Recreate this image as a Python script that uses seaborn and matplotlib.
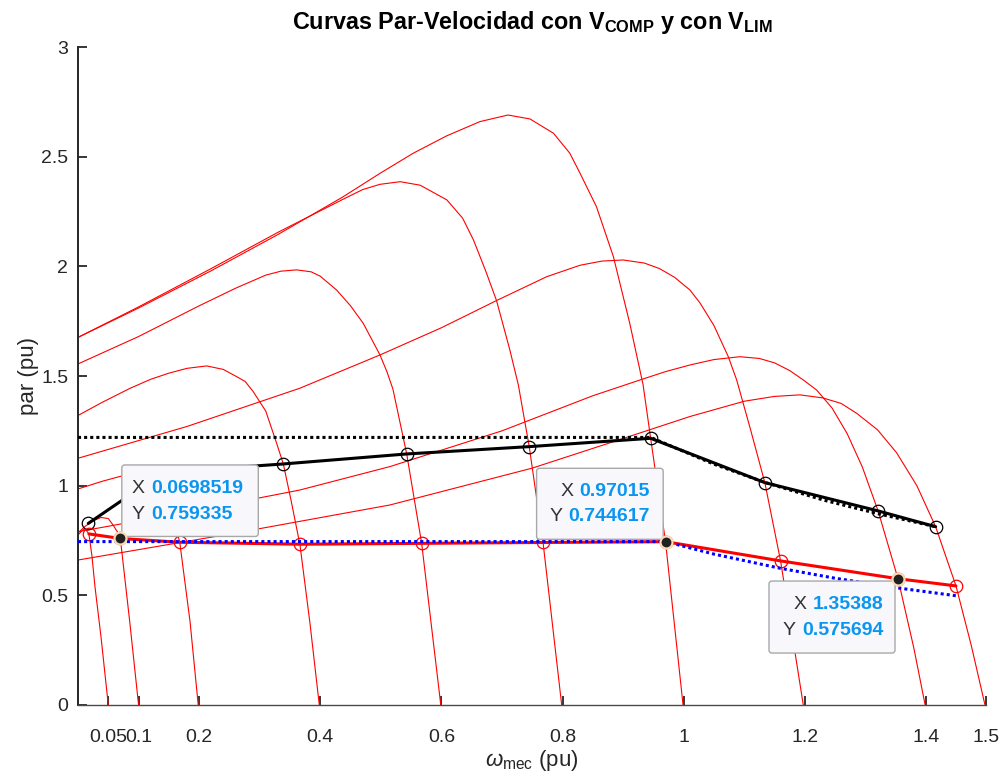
import numpy as np
import pandas as pd
import matplotlib
matplotlib.use("Agg")
import matplotlib.pyplot as plt
import matplotlib.transforms as mtransforms
from matplotlib.patches import FancyBboxPatch
import seaborn as sns

sns.set_theme(style="white")
plt.rcParams['font.family'] = ['Liberation Sans', 'DejaVu Sans']
plt.rcParams['mathtext.fontset'] = 'custom'
plt.rcParams['mathtext.rm'] = 'Liberation Sans'
plt.rcParams['mathtext.it'] = 'Liberation Sans:italic'
plt.rcParams['mathtext.bf'] = 'Liberation Sans:bold'

# ---------------- data ----------------
ns_values = [0.05, 0.1, 0.2, 0.4, 0.6, 0.8, 1.0, 1.2, 1.4, 1.5]
tick_labels = ["0.05", "0.1", "0.2", "0.4", "0.6", "0.8", "1", "1.2", "1.4", "1.5"]

c005_x = [0, 0.005, 0.009, 0.014, 0.018, 0.023, 0.028, 0.038, 0.05]
c005_y = [0.775, 0.79, 0.80, 0.795, 0.78, 0.68, 0.54, 0.31, 0]

c01_x = [0, 0.012, 0.025, 0.038, 0.05, 0.058, 0.0666, 0.0699, 0.0858, 0.1]
c01_y = [0.785, 0.815, 0.84, 0.855, 0.85, 0.82, 0.783, 0.759, 0.37, 0]

c02_x = [0, 0.04, 0.08, 0.11, 0.135, 0.145, 0.155, 0.168, 0.185, 0.1985]
c02_y = [0.985, 1.02, 1.05, 1.055, 1.0, 0.95, 0.88, 0.742, 0.38, 0]

c04_x = [0, 0.04, 0.086, 0.12, 0.15, 0.18, 0.2125, 0.24, 0.262, 0.276, 0.289, 0.31, 0.328, 0.339,
         0.352, 0.3665, 0.383, 0.3984]
c04_y = [1.32, 1.38, 1.444, 1.485, 1.513, 1.535, 1.546, 1.53, 1.497, 1.475, 1.43, 1.34, 1.193, 1.099,
         0.93, 0.73, 0.3725, 0]

c06_x = [0, 0.1, 0.2, 0.26, 0.31, 0.335, 0.361, 0.385, 0.40, 0.427, 0.45, 0.471, 0.4986, 0.51,
         0.52, 0.5427, 0.5674, 0.599]
c06_y = [1.555, 1.68, 1.82, 1.90, 1.96, 1.978, 1.984, 1.975, 1.955, 1.892, 1.82, 1.74, 1.596, 1.52,
         1.44, 1.1446, 0.737, 0]

c08_x = [0, 0.1, 0.22, 0.33, 0.437, 0.47, 0.4986, 0.532, 0.565, 0.609, 0.635, 0.653, 0.673,
         0.691, 0.713, 0.727, 0.745, 0.768, 0.7986]
c08_y = [1.676, 1.815, 1.99, 2.155, 2.305, 2.35, 2.374, 2.386, 2.37, 2.303, 2.22, 2.12, 1.98,
         1.844, 1.619, 1.46, 1.178, 0.737, 0]

c10_x = [0, 0.1, 0.22, 0.33, 0.437, 0.4986, 0.5536, 0.6087, 0.6637, 0.71, 0.7463, 0.785, 0.812,
         0.829, 0.856, 0.884, 0.911, 0.933, 0.9455, 0.970, 0.999]
c10_y = [1.676, 1.81, 1.98, 2.145, 2.316, 2.424, 2.516, 2.595, 2.66, 2.69, 2.672, 2.607, 2.516,
         2.424, 2.272, 2.044, 1.740, 1.46, 1.216, 0.745, 0]

c12_x = [0, 0.18, 0.366, 0.4986, 0.6, 0.691, 0.774, 0.829, 0.865, 0.900, 0.935, 0.96, 0.985,
         1.0104, 1.027, 1.05, 1.0737, 1.0875, 1.11, 1.134, 1.160, 1.1975]
c12_y = [1.125, 1.27, 1.444, 1.596, 1.72, 1.844, 1.953, 2.005, 2.024, 2.029, 2.015, 1.99, 1.95,
         1.892, 1.833, 1.73, 1.588, 1.482, 1.26, 1.014, 0.657, 0]

c14_x = [0, 0.18, 0.366, 0.515, 0.7, 0.85, 0.928, 0.97, 1.01, 1.05, 1.093, 1.125, 1.15, 1.175,
         1.1975, 1.2196, 1.245, 1.27, 1.295, 1.321, 1.35388, 1.38, 1.3987]
c14_y = [0.79, 0.88, 0.98, 1.087, 1.25, 1.41, 1.482, 1.52, 1.55, 1.575, 1.588, 1.58, 1.56, 1.525,
         1.482, 1.436, 1.354, 1.237, 1.085, 0.885, 0.575694, 0.26, 0]

c15_x = [0, 0.262, 0.515, 0.75, 0.9, 1.01, 1.1, 1.15, 1.192, 1.23, 1.26, 1.2856, 1.32, 1.3516,
         1.385, 1.416, 1.4496, 1.475, 1.4975]
c15_y = [0.661, 0.785, 0.912, 1.08, 1.215, 1.315, 1.385, 1.407, 1.414, 1.40, 1.375, 1.33, 1.255,
         1.15, 1.0, 0.813, 0.543, 0.27, 0]

# black line (circles) and its limit (dotted)
comp_x = [0.017, 0.14, 0.339, 0.5427, 0.745, 0.9455, 1.134, 1.321, 1.416]
comp_y = [0.828, 1.06, 1.099, 1.1446, 1.178, 1.216, 1.014, 0.885, 0.813]
comp_lim_x = [0, 0.9455, 1.05, 1.134, 1.23, 1.321, 1.416]
comp_lim_y = [1.22, 1.22, 1.098, 1.015, 0.935, 0.872, 0.813]

# red thick line (circles) and blue dotted limit
lim_x = [0.018, 0.0698519, 0.168, 0.3665, 0.5674, 0.768, 0.97015, 1.160, 1.35388, 1.4496]
lim_y = [0.78, 0.759335, 0.742, 0.733, 0.737, 0.741, 0.744617, 0.657, 0.575694, 0.543]
blue_x = [0, 0.97015, 1.05, 1.16, 1.25, 1.35, 1.45]
blue_y = [0.745, 0.745, 0.688, 0.623, 0.578, 0.535, 0.498]

# data tips
tip_x = [0.0698519, 0.97015, 1.35388]
tip_y = [0.759335, 0.744617, 0.575694]
tip_xs = ["0.0698519", "0.97015", "1.35388"]
tip_ys = ["0.759335", "0.744617", "0.575694"]

curve_xs = [c005_x, c01_x, c02_x, c04_x, c06_x, c08_x, c10_x, c12_x, c14_x, c15_x]
curve_ys = [c005_y, c01_y, c02_y, c04_y, c06_y, c08_y, c10_y, c12_y, c14_y, c15_y]

rows = []
for ns, xs, ys in zip(ns_values, curve_xs, curve_ys):
    for xv, yv in zip(xs, ys):
        rows.append({"ns": f"{ns}", "w": xv, "T": yv})
df = pd.DataFrame(rows)

# ---------------- figure ----------------
fig = plt.figure(figsize=(10, 7.76), dpi=100)
ax = fig.add_axes([0.078, 0.0915, 0.9085, 0.8479])

pal = {f"{ns}": "#FF0000" for ns in ns_values}
sns.lineplot(data=df, x="w", y="T", hue="ns", palette=pal, estimator=None,
             sort=False, legend=False, linewidth=0.8, ax=ax, zorder=2)

sns.lineplot(x=comp_lim_x, y=comp_lim_y, color="black", estimator=None, sort=False,
             linewidth=2.2, linestyle=(0, (1, 1)), ax=ax, zorder=3)
sns.lineplot(x=comp_x, y=comp_y, color="black", estimator=None, sort=False,
             linewidth=2.2, marker="o", markersize=9, markerfacecolor="none",
             markeredgecolor="black", markeredgewidth=0.9, ax=ax, zorder=4)
sns.lineplot(x=lim_x, y=lim_y, color="#FF0000", estimator=None, sort=False,
             linewidth=2.2, marker="o", markersize=9, markerfacecolor="none",
             markeredgecolor="#FF0000", markeredgewidth=0.9, ax=ax, zorder=4)
sns.lineplot(x=blue_x, y=blue_y, color="#0000FF", estimator=None, sort=False,
             linewidth=2.2, linestyle=(0, (1, 1)), ax=ax, zorder=5)

sns.scatterplot(x=tip_x, y=tip_y, s=75, color="#202020", edgecolor="#F7DDB5",
                linewidth=1.6, ax=ax, zorder=9)

# ---------------- data tip boxes ----------------
label_col = "#333333"
value_col = "#0A96F0"
tip_specs = [
    dict(box=(1.5, 2.0, 136.5, 71.5), tx=11.4, vx=31.4, dys=(50.2, 23.5), align="left"),
    dict(box=(-129.0, 2.4, 126.6, 71.0), tx=None, vx=-15.6, dys=(50.0, 25.0), align="right"),
    dict(box=(-129.0, -74.3, 126.0, 72.0), tx=None, vx=-14.8, dys=(-25.3, -51.3), align="right"),
]
for (px, py, sx, sy, spec) in zip(tip_x, tip_y, tip_xs, tip_ys, tip_specs):
    off = mtransforms.ScaledTranslation(px, py, ax.transData)
    trans = mtransforms.IdentityTransform() + off
    bx, by, bw, bh = spec["box"]
    patch = FancyBboxPatch((bx, by), bw, bh, boxstyle="round,pad=0,rounding_size=3",
                           transform=trans, facecolor="#F8F8FC", edgecolor="#A8A8A8",
                           linewidth=1.0, zorder=7, clip_on=False)
    ax.add_patch(patch)
    for lab, val, dy in zip(["X", "Y"], [sx, sy], spec["dys"]):
        if spec["align"] == "left":
            ax.annotate(lab, xy=(px, py), xytext=(spec["tx"], dy), textcoords="offset pixels",
                        ha="left", va="center", fontsize=14, color=label_col, zorder=8,
                        annotation_clip=False)
            ax.annotate(val, xy=(px, py), xytext=(spec["vx"], dy), textcoords="offset pixels",
                        ha="left", va="center", fontsize=14, color=value_col,
                        fontweight="bold", zorder=8, annotation_clip=False)
        else:
            vt = ax.annotate(val, xy=(px, py), xytext=(spec["vx"], dy), textcoords="offset pixels",
                             ha="right", va="center", fontsize=14, color=value_col,
                             fontweight="bold", zorder=8, annotation_clip=False)
            ax.annotate(lab, xy=(0, 0.5), xycoords=vt, xytext=(-6, 0), textcoords="offset pixels",
                        ha="right", va="center", fontsize=14, color=label_col, zorder=8,
                        annotation_clip=False)

# ---------------- axes styling ----------------
ax.set_xlim(0, 1.5)
ax.set_ylim(0, 3)
ax.set_xticks(ns_values)
ax.set_xticklabels(tick_labels)
yt = [0, 0.5, 1, 1.5, 2, 2.5, 3]
ax.set_yticks(yt)
ax.set_yticklabels(["0", "0.5", "1", "1.5", "2", "2.5", "3"])

for s in ["top", "right"]:
    ax.spines[s].set_visible(False)
ax.spines["left"].set_linewidth(1.4)
ax.spines["left"].set_color("#262626")
ax.spines["bottom"].set_linewidth(1.0)
ax.spines["bottom"].set_color("#4a4a4a")

ax.tick_params(axis="both", direction="in", length=6.5, width=1.3, colors="#262626",
               labelsize=14)
ax.tick_params(axis="x", pad=17, bottom=True, top=False)
ax.tick_params(axis="y", pad=7, left=True, right=False)

ax.set_xlabel(r"$\omega_{\mathrm{mec}}$ (pu)", fontsize=16, color="#262626", labelpad=2)
ax.set_ylabel("par (pu)", fontsize=16, color="#262626", labelpad=1.5)
ax.set_title(r"Curvas Par-Velocidad con V$_{\mathbf{COMP}}$ y con V$_{\mathbf{LIM}}$",
             fontsize=16.8, fontweight="bold", color="black", pad=13)
ax.grid(False)
ax.set_facecolor("white")

fig.savefig("out.png", dpi=100, facecolor="white")
